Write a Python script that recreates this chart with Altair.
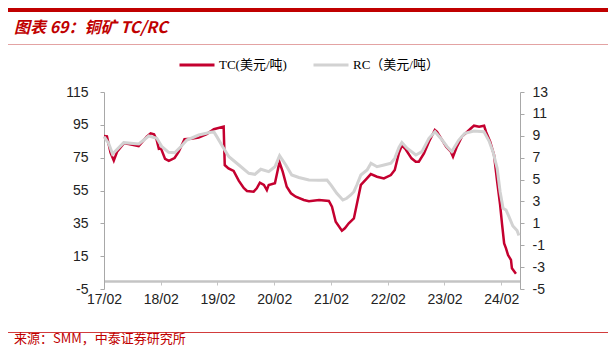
import altair as alt
import pandas as pd

# ---------------- data ----------------
tc_dates = [
    "2017-02-01", "2017-02-20", "2017-03-15", "2017-04-05", "2017-04-26", "2017-06-08",
    "2017-07-10", "2017-09-12", "2017-11-03", "2017-11-28", "2017-12-20", "2018-01-06",
    "2018-01-20", "2018-02-03", "2018-03-01", "2018-03-25", "2018-05-01", "2018-05-28",
    "2018-07-04", "2018-08-15", "2018-10-03", "2018-11-24", "2019-01-09", "2019-03-13",
    "2019-03-20", "2019-04-13", "2019-05-16", "2019-06-18", "2019-07-20", "2019-08-10",
    "2019-09-22", "2019-10-12", "2019-11-01", "2019-11-27", "2019-12-16", "2019-12-28",
    "2020-02-06", "2020-03-02", "2020-03-07", "2020-03-27", "2020-04-22", "2020-05-19",
    "2020-06-19", "2020-08-10", "2020-09-12", "2020-11-16", "2021-01-18", "2021-02-07",
    "2021-03-03", "2021-04-12", "2021-05-01", "2021-05-26", "2021-06-28", "2021-07-16",
    "2021-08-12", "2021-09-20", "2021-10-15", "2021-11-24", "2022-01-07", "2022-02-21",
    "2022-03-18", "2022-04-13", "2022-05-03", "2022-05-28", "2022-07-04", "2022-07-31",
    "2022-08-20", "2022-09-22", "2022-10-24", "2022-12-01", "2022-12-15", "2023-01-16",
    "2023-02-12", "2023-03-14", "2023-03-28", "2023-04-22", "2023-05-24", "2023-07-22",
    "2023-08-10", "2023-09-12", "2023-10-14", "2023-10-26", "2023-11-22", "2023-12-17",
    "2024-01-06", "2024-01-25", "2024-02-07", "2024-02-20", "2024-03-03", "2024-03-16",
    "2024-04-04", "2024-04-10", "2024-05-06",
]
tc_values = [
    88.2, 88.0, 78.0, 73.2, 78.6, 83.7,
    83.3, 82.1, 87.8, 89.8, 89.2, 85.8,
    80.3, 80.5, 74.2, 73.0, 74.8, 78.6,
    86.2, 86.5, 87.2, 89.4, 92.3, 93.9,
    70.5, 68.5, 66.9, 61.0, 56.5, 54.7,
    54.3, 56.3, 59.8, 58.4, 55.3, 58.4,
    59.4, 70.5, 72.0, 66.5, 57.3, 53.3,
    51.2, 49.2, 48.5, 49.2, 48.6, 45.1,
    36.0, 30.5, 32.0, 35.0, 38.0, 46.2,
    58.4, 62.4, 65.0, 63.4, 62.4, 64.4,
    67.5, 77.6, 82.5, 80.0, 74.6, 72.5,
    72.5, 77.6, 84.7, 91.9, 90.8, 85.8,
    81.7, 78.6, 75.6, 81.7, 87.8, 92.9,
    94.5, 93.9, 94.5, 90.8, 84.7, 76.6,
    60.4, 46.2, 34.0, 22.8, 19.8, 15.7,
    12.7, 7.6, 4.3,
]

rc_dates = [
    "2017-02-01", "2017-03-03", "2017-03-28", "2017-06-08", "2017-09-13", "2017-11-16",
    "2018-01-07", "2018-02-09", "2018-03-24", "2018-05-02", "2018-06-10", "2018-07-19",
    "2018-10-04", "2018-12-20", "2019-01-09", "2019-01-28", "2019-03-07", "2019-04-16",
    "2019-06-19", "2019-08-22", "2019-09-30", "2019-11-07", "2019-12-28", "2020-02-06",
    "2020-03-07", "2020-04-16", "2020-05-24", "2020-07-09", "2020-09-12", "2020-11-16",
    "2021-01-06", "2021-02-01", "2021-03-10", "2021-04-18", "2021-05-13", "2021-06-08",
    "2021-06-28", "2021-07-17", "2021-08-12", "2021-09-21", "2021-10-16", "2021-11-24",
    "2022-01-08", "2022-02-22", "2022-03-18", "2022-04-14", "2022-05-03", "2022-06-05",
    "2022-08-01", "2022-09-09", "2022-10-24", "2022-12-02", "2023-01-17", "2023-02-18",
    "2023-03-20", "2023-05-04", "2023-06-12", "2023-08-09", "2023-10-13", "2023-11-15",
    "2023-12-10", "2024-01-06", "2024-01-25", "2024-02-13", "2024-03-03", "2024-03-22",
    "2024-04-16", "2024-05-13", "2024-05-25",
]
rc_values = [
    8.92, 8.31, 7.33, 8.37, 8.25, 8.98,
    8.77, 8.00, 7.49, 7.45, 8.00, 8.61,
    9.07, 9.32, 9.35, 8.92, 8.00, 7.09,
    6.33, 5.57, 5.48, 5.94, 5.72, 6.17,
    7.18, 6.33, 5.42, 5.19, 4.96, 4.93,
    4.96, 4.50, 3.74, 3.13, 3.29, 3.59,
    3.89, 4.50, 5.42, 5.87, 6.49, 6.17,
    6.33, 6.49, 6.94, 7.93, 8.39, 7.86,
    7.24, 7.55, 8.77, 9.37, 8.61, 8.00,
    7.55, 8.61, 9.23, 9.44, 9.37, 8.52,
    7.55, 6.03, 3.89, 2.37, 2.22, 1.61,
    0.76, 0.34, -0.11,
]

x_tick_years = [2017, 2018, 2019, 2020, 2021, 2022, 2023, 2024]
tc_ticks = [-5, 15, 35, 55, 75, 95, 115]
rc_ticks = [-5, -3, -1, 1, 3, 5, 7, 9, 11, 13]

TC_NAME = "TC(美元/吨)"
RC_NAME = "RC（美元/吨）"
TITLE = "图表 69：铜矿 TC/RC"
SOURCE = "来源：SMM，中泰证券研究所"

RED = "#c4002f"
GRAY = "#d2d2d2"
TITLE_RED = "#c00000"

tc_df = pd.DataFrame({"date": pd.to_datetime(tc_dates), "value": tc_values, "series": TC_NAME})
rc_df = pd.DataFrame({"date": pd.to_datetime(rc_dates), "value": rc_values, "series": RC_NAME})

LABEL_FONT = "Liberation Sans"

x_enc = alt.X(
    "date:T",
    title=None,
    scale=alt.Scale(domain=[alt.DateTime(year=2017, month=2, date=1),
                            alt.DateTime(year=2024, month=6, date=1)]),
    axis=alt.Axis(
        values=[alt.DateTime(year=y, month=2, date=1) for y in x_tick_years],
        format="%y/%m", offset=-8, grid=False,
        domainColor="#c4c4c4", domainWidth=2.5, tickColor="#c4c4c4", tickSize=4,
        labelFont=LABEL_FONT, labelFontSize=14, labelColor="#222222", labelPadding=7,
        labelFlush=False, labelOverlap=False,
    ),
)

color_enc = alt.Color(
    "series:N",
    scale=alt.Scale(domain=[TC_NAME, RC_NAME], range=[RED, GRAY]),
    legend=alt.Legend(
        title=None, orient="none", legendX=74, legendY=-46, direction="horizontal",
        symbolType="stroke", symbolSize=1225, symbolStrokeWidth=3,
        labelFont="Liberation Serif, Noto Sans CJK SC", labelFontSize=13, labelColor="#000000",
        labelOffset=3, columnPadding=20, padding=0,
    ),
)

tc_line = alt.Chart(tc_df).mark_line(strokeWidth=2.5).encode(
    x=x_enc,
    y=alt.Y("value:Q", title=None,
            scale=alt.Scale(domain=[-5, 115], nice=False, zero=False),
            axis=alt.Axis(orient="left", values=tc_ticks, grid=False,
                          labelExpr="'' + datum.value",
                          domainColor="#a8a8a8", tickColor="#a8a8a8", tickSize=4,
                          labelFont=LABEL_FONT, labelFontSize=14, labelColor="#222222",
                          labelPadding=12)),
    color=color_enc,
)

rc_line = alt.Chart(rc_df).mark_line(strokeWidth=3).encode(
    x=x_enc,
    y=alt.Y("value:Q", title=None,
            scale=alt.Scale(domain=[-5, 13], nice=False, zero=False),
            axis=alt.Axis(orient="right", values=rc_ticks, grid=False,
                          labelExpr="'' + datum.value",
                          domainColor="#a8a8a8", tickColor="#a8a8a8", tickSize=4,
                          labelFont=LABEL_FONT, labelFontSize=14, labelColor="#222222",
                          labelPadding=8)),
    color=color_enc,
)

one = pd.DataFrame({"title": [TITLE], "source": [SOURCE]})

top_bar = alt.Chart(one).mark_rule(color=TITLE_RED, strokeWidth=4).encode(
    x=alt.value(-96), x2=alt.value(504), y=alt.value(-82))
title_line = alt.Chart(one).mark_rule(color="#e3a3a3", strokeWidth=1).encode(
    x=alt.value(-96), x2=alt.value(504), y=alt.value(-47.5))
foot_line = alt.Chart(one).mark_rule(color="#d23c3c", strokeWidth=1.2).encode(
    x=alt.value(-96), x2=alt.value(504), y=alt.value(240.5))
title_text = alt.Chart(one).mark_text(
    align="left", baseline="alphabetic", fontSize=16, fontWeight="bold",
    fontStyle="italic", color=TITLE_RED, font="Noto Sans CJK SC").encode(
    text="title:N", x=alt.value(-90), y=alt.value(-59))
source_text = alt.Chart(one).mark_text(
    align="left", baseline="alphabetic", fontSize=13, color=TITLE_RED,
    font="Noto Sans CJK SC").encode(
    text="source:N", x=alt.value(-90), y=alt.value(251))

chart = alt.layer(
    tc_line, rc_line, top_bar, title_line, foot_line, title_text, source_text
).resolve_scale(y="independent").properties(
    width=416, height=197,
    autosize=alt.AutoSizeParams(type="none"),
    padding={"left": 96, "top": 84, "right": 88, "bottom": 59},
).configure_view(strokeWidth=0)

chart.save("out.html", embed_options={"renderer": "svg", "actions": False})
